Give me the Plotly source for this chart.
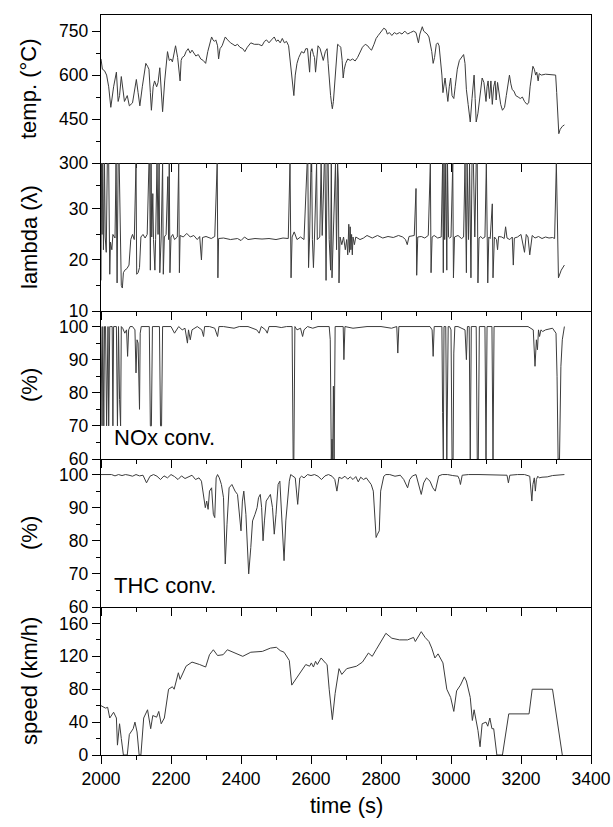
import plotly.graph_objects as go
from plotly.subplots import make_subplots

# ---------------- data ----------------
temp_time = [2000, 2004, 2010, 2016, 2022, 2028, 2036, 2044, 2049, 2053, 2058, 2063, 2067, 2075, 2081, 2090,
             2097, 2101, 2106, 2111, 2118, 2124, 2128, 2133, 2137, 2141, 2144, 2149, 2153, 2159, 2163, 2168,
             2172, 2176, 2182, 2186, 2190, 2195, 2200, 2204, 2209, 2213, 2219, 2223, 2226, 2229, 2232, 2238,
             2243, 2249, 2255, 2260, 2266, 2271, 2278, 2285, 2292, 2299, 2305, 2311, 2316, 2320, 2324, 2328,
             2333, 2336, 2340, 2346, 2351, 2355, 2362, 2370, 2377, 2383, 2390, 2397, 2405, 2411, 2418, 2428,
             2438, 2450, 2460, 2467, 2473, 2480, 2487, 2495, 2501, 2506, 2512, 2518, 2524, 2530, 2536, 2540,
             2543, 2547, 2551, 2555, 2560, 2565, 2573, 2580, 2585, 2590, 2593, 2596, 2599, 2603, 2607, 2610,
             2613, 2617, 2620, 2626, 2630, 2635, 2641, 2646, 2649, 2652, 2656, 2659, 2661, 2664, 2669, 2673,
             2676, 2681, 2685, 2689, 2692, 2695, 2699, 2705, 2712, 2719, 2726, 2733, 2740, 2747, 2755, 2762,
             2768, 2773, 2780, 2786, 2792, 2798, 2803, 2808, 2814, 2818, 2824, 2831, 2838, 2845, 2853, 2860,
             2868, 2876, 2884, 2893, 2900, 2904, 2907, 2911, 2915, 2918, 2922, 2926, 2932, 2937, 2941, 2945,
             2949, 2953, 2958, 2962, 2966, 2970, 2974, 2977, 2980, 2983, 2986, 2989, 2991, 2995, 2999, 3003,
             3008, 3012, 3018, 3024, 3030, 3036, 3040, 3044, 3049, 3055, 3060, 3066, 3069, 3072, 3077, 3083,
             3089, 3094, 3098, 3100, 3103, 3106, 3110, 3114, 3118, 3122, 3126, 3129, 3133, 3137, 3142, 3147,
             3153, 3158, 3162, 3167, 3171, 3175, 3180, 3185, 3192, 3198, 3204, 3210, 3217, 3222, 3226, 3231,
             3234, 3238, 3242, 3245, 3249, 3252, 3258, 3270, 3285, 3299, 3302, 3305, 3308, 3312, 3318, 3324]
temp_vals = [655, 620, 615, 600, 560, 490, 560, 610, 510, 530, 595, 545, 510, 530, 495, 505,
             560, 585, 540, 495, 560, 620, 640, 630, 620, 540, 480, 560, 580, 560, 575, 625,
             540, 475, 580, 640, 680, 650, 655, 645, 680, 700, 660, 600, 580, 650, 660, 665,
             680, 690, 675, 685, 675, 665, 670, 655, 650, 640, 680, 710, 730, 720, 715, 720,
             700, 655, 690, 700, 715, 730, 720, 710, 705, 700, 705, 695, 690, 680, 695, 710,
             705, 705, 700, 715, 720, 710, 720, 730, 715, 720, 710, 725, 710, 715, 700, 660,
             625, 580, 530, 600, 640, 660, 680, 675, 690, 690, 650, 610, 680, 690, 670, 660,
             610, 680, 700, 690, 670, 650, 680, 690, 640, 580, 530, 500, 485, 510, 600, 680,
             705, 700, 695, 650, 590, 620, 640, 655, 650, 655, 648, 660, 675, 695, 705, 700,
             690, 685, 705, 725, 735, 745, 750, 760, 755, 740, 745, 735, 745, 740, 745, 740,
             750, 740, 745, 750, 745, 725, 710, 740, 760, 765, 750, 745, 740, 730, 705, 680,
             640, 660, 705, 710, 700, 660, 600, 540, 560, 590, 560, 520, 510, 560, 590, 530,
             520, 560, 620, 650, 660, 670, 640, 550, 500, 440, 520, 600, 520, 440, 470, 540,
             590, 575, 540, 510, 560, 580, 520, 580, 500, 560, 580, 515, 575, 540, 500, 480,
             490, 530, 560, 600, 570, 550, 545, 530, 525, 520, 525, 510, 500, 505, 560, 610,
             630, 620, 600, 610, 580, 605, 600, 603, 602, 600, 540, 460, 400, 415, 425, 430]

lambda_time = [2000, 2001, 2003, 2005, 2007, 2010, 2012, 2015, 2018, 2022, 2025, 2027, 2031, 2034, 2040,
               2043, 2046, 2049, 2052, 2055, 2058, 2061, 2064, 2068, 2074, 2080, 2085, 2090, 2095, 2100,
               2102, 2106, 2110, 2114, 2120, 2126, 2132, 2137, 2139, 2141, 2143, 2145, 2148, 2150, 2154,
               2156, 2160, 2163, 2166, 2168, 2172, 2176, 2178, 2181, 2186, 2191, 2193, 2195, 2197, 2200,
               2205, 2210, 2218, 2222, 2224, 2226, 2235, 2245, 2255, 2265, 2275, 2282, 2287, 2290, 2300,
               2315, 2325, 2332, 2334, 2336, 2350, 2370, 2390, 2400, 2410, 2420, 2440, 2460, 2480, 2500,
               2520, 2535, 2540, 2543, 2546, 2552, 2560, 2570, 2580, 2589, 2591, 2593, 2596, 2600, 2602,
               2604, 2607, 2610, 2616, 2618, 2625, 2629, 2632, 2638, 2640, 2643, 2646, 2649, 2652, 2656,
               2658, 2660, 2663, 2668, 2670, 2673, 2676, 2678, 2680, 2683, 2688, 2693, 2698, 2702, 2705,
               2708, 2710, 2712, 2714, 2716, 2718, 2720, 2724, 2728, 2740, 2750, 2760, 2775, 2790, 2805,
               2820, 2835, 2850, 2862, 2870, 2875, 2880, 2895, 2900, 2902, 2905, 2915, 2925, 2935, 2941,
               2943, 2946, 2952, 2962, 2972, 2974, 2976, 2978, 2980, 2982, 2985, 2988, 2990, 2993, 2996,
               3000, 3005, 3007, 3010, 3020, 3030, 3036, 3038, 3040, 3044, 3046, 3050, 3053, 3057, 3060,
               3064, 3068, 3072, 3075, 3077, 3080, 3085, 3090, 3097, 3099, 3101, 3105, 3108, 3112, 3118,
               3120, 3124, 3130, 3133, 3136, 3145, 3152, 3156, 3160, 3168, 3175, 3178, 3181, 3190, 3200,
               3210, 3215, 3220, 3225, 3232, 3240, 3250, 3260, 3270, 3280, 3290, 3296, 3299, 3301, 3307,
               3315, 3324]
lambda_vals = [16, 300, 25, 300, 22, 300, 24.5, 21.5, 300, 300, 17.2, 23.5, 22, 25, 24.3,
               300, 15.5, 300, 300, 22, 15, 14.5, 17.5, 18, 18.3, 19, 24, 25, 24, 300,
               17.2, 17.5, 18.5, 24.5, 25, 24.3, 25, 300, 300, 18, 300, 24.5, 120, 24, 18,
               24, 300, 25, 300, 17.5, 24.5, 300, 17.2, 24.5, 25, 220, 24, 300, 17.5, 24.5,
               25, 24, 24.5, 300, 17.5, 24.8, 24.5, 25.2, 24.5, 24.8, 24, 24.6, 20, 24.4, 24.6,
               24.2, 24.6, 300, 16.5, 24.2, 24.3, 24, 24.2, 23.8, 24.5, 24, 24.2, 24.1, 24.2, 24,
               24.3, 24.2, 300, 16.5, 24.5, 25.5, 24, 24.5, 24, 300, 300, 18.5, 24.5, 300, 300,
               24, 18.5, 24.5, 300, 24, 24.5, 300, 24.8, 300, 300, 16, 300, 300, 24, 18,
               300, 16.5, 24.5, 300, 300, 22, 300, 200, 15.5, 24.5, 23, 24.5, 22, 24, 21,
               27, 21.5, 26.5, 22, 25, 21, 24.5, 23, 24.5, 24, 24.3, 24.8, 24.3, 24.8, 24.3,
               24.6, 24.4, 24.8, 24.5, 24, 23, 24.6, 24.8, 150, 17, 24.5, 24.6, 24.3, 24.8, 300,
               17.5, 24.5, 24.8, 24.3, 24.5, 300, 300, 17.5, 300, 24, 300, 18, 300, 24.5, 24.3,
               24.5, 300, 16.5, 24.5, 24.8, 24.2, 24.5, 300, 300, 17.5, 300, 24, 300, 16.5, 300,
               300, 24.5, 300, 300, 15.5, 24.3, 24.6, 24.2, 24.5, 300, 300, 15.5, 24.5, 24.2, 60,
               16.5, 24.5, 24, 22, 24.6, 24.5, 24.2, 26.5, 24.3, 24, 24.5, 19, 24.3, 24.5, 25,
               21.5, 25, 24.5, 21, 24.8, 24.3, 24.6, 24.2, 24.5, 24.3, 24.4, 24.2, 300, 300, 16.5,
               18, 19]

nox_time = [2000, 2003, 2005, 2008, 2010, 2013, 2016, 2018, 2020, 2022, 2025, 2028, 2032, 2034, 2036,
            2040, 2044, 2047, 2050, 2053, 2056, 2058, 2062, 2068, 2073, 2076, 2079, 2083, 2090, 2097,
            2100, 2103, 2106, 2110, 2112, 2115, 2118, 2125, 2138, 2141, 2144, 2147, 2150, 2160, 2167,
            2170, 2173, 2176, 2178, 2190, 2200, 2210, 2222, 2232, 2240, 2247, 2250, 2255, 2260, 2275,
            2288, 2293, 2296, 2310, 2325, 2333, 2337, 2350, 2380, 2395, 2420, 2445, 2452, 2458, 2470,
            2475, 2480, 2500, 2515, 2530, 2546, 2549, 2551, 2554, 2560, 2570, 2576, 2580, 2590, 2605,
            2620, 2640, 2652, 2655, 2658, 2660, 2662, 2664, 2666, 2669, 2685, 2692, 2694, 2697, 2720,
            2760, 2800, 2830, 2845, 2848, 2851, 2870, 2900, 2940, 2946, 2949, 2952, 2970, 2974, 2976,
            2978, 2980, 2983, 2985, 2988, 2990, 2992, 2996, 3000, 3003, 3006, 3008, 3011, 3020, 3040,
            3044, 3047, 3052, 3055, 3058, 3072, 3075, 3078, 3081, 3097, 3100, 3103, 3117, 3120, 3123,
            3150, 3180, 3220, 3235, 3240, 3244, 3247, 3250, 3253, 3257, 3262, 3270, 3290, 3300, 3303,
            3306, 3310, 3314, 3318, 3324]
nox_vals = [100, 70, 100, 70, 100, 100, 70, 100, 100, 70, 100, 100, 100, 70, 100,
            100, 100, 70, 100, 78, 70, 100, 99.5, 98, 99, 91, 99, 100, 100, 99,
            86, 96, 95, 75, 98, 100, 100, 100, 100, 70, 70, 100, 100, 100, 100,
            70, 70, 100, 100, 99.8, 100, 98, 100, 99, 99.5, 95, 99, 96, 99, 100,
            99, 97, 100, 100, 99.5, 97, 100, 100, 99.5, 100, 100, 99, 98, 100, 99,
            98, 100, 100, 99.7, 100, 100, 60, 60, 100, 99, 99.5, 97, 99, 100, 99.5,
            100, 100, 100, 96, 60, 66, 60, 82, 60, 100, 100, 100, 90, 100, 99.5,
            100, 100, 99.5, 100, 92, 100, 100, 99.8, 100, 99, 91, 100, 100, 100, 74,
            60, 100, 100, 100, 60, 76, 100, 100, 99, 60, 60, 92, 100, 100, 99,
            90, 100, 100, 60, 100, 100, 60, 60, 100, 100, 60, 100, 100, 60, 100,
            100, 100, 100, 99, 88, 96, 93, 99, 97, 99, 98.5, 99, 99.5, 98, 85,
            60, 60, 88, 96, 100]

thc_time = [2000, 2010, 2020, 2030, 2040, 2050, 2060, 2070, 2080, 2090, 2100, 2110, 2120, 2130, 2140,
            2150, 2160, 2170, 2180, 2190, 2200, 2210, 2220, 2230, 2240, 2250, 2260, 2270, 2280, 2287,
            2293, 2298, 2302, 2306, 2310, 2316, 2321, 2325, 2329, 2333, 2338, 2344, 2350, 2355, 2360,
            2366, 2374, 2383, 2390, 2396, 2400, 2404, 2408, 2414, 2422, 2428, 2433, 2440, 2446, 2450,
            2455, 2459, 2463, 2467, 2472, 2478, 2484, 2490, 2495, 2500, 2506, 2511, 2515, 2519, 2523,
            2528, 2534, 2538, 2542, 2548, 2555, 2562, 2568, 2573, 2580, 2590, 2600, 2610, 2620, 2630,
            2640, 2650, 2660, 2668, 2674, 2680, 2688, 2697, 2705, 2712, 2720, 2728, 2735, 2742, 2750,
            2758, 2765, 2772, 2778, 2783, 2786, 2790, 2795, 2799, 2803, 2808, 2814, 2825, 2840, 2855,
            2865, 2872, 2876, 2882, 2890, 2900, 2908, 2915, 2922, 2930, 2940, 2948, 2955, 2960, 2965,
            2975, 2990, 3005, 3020, 3024, 3027, 3032, 3050, 3080, 3110, 3140, 3160, 3164, 3168, 3190,
            3210, 3225, 3229, 3231, 3234, 3238, 3241, 3244, 3248, 3252, 3260, 3275, 3290, 3310, 3324]
thc_vals = [100, 100, 99.8, 100, 99.6, 100, 99.7, 100, 99.8, 99.5, 100, 99.6, 99.8, 97.5, 99.5,
            100, 99.5, 98.5, 99.6, 99, 100, 99.4, 98.5, 99.6, 98.8, 99.2, 99.8, 98.5, 99, 98,
            94, 90, 92, 89.5, 95, 96, 88, 87, 99, 100, 99, 97, 93, 73, 85,
            96, 97, 95, 94, 88, 83, 92, 95, 88, 70, 78, 86, 88, 90, 93,
            94, 90, 80, 86, 92, 93, 94, 90, 82, 88, 97, 98, 90, 82, 74,
            86, 95, 98, 100, 99.5, 99, 91, 99, 99.5, 99, 100, 99.7, 100, 99.5, 98.5,
            99.6, 100, 99.5, 98.5, 95, 99.2, 98.8, 99.5, 98.6, 99.3, 98.5, 99.4, 97.8, 99.2, 98.5,
            99, 98, 97, 95, 88, 81, 82, 83, 95, 97, 99.5, 100, 100, 99.5, 99.8,
            98.5, 97, 96, 98.5, 99.6, 100, 97, 94, 97.5, 99, 98, 96, 95, 97, 99.6,
            100, 100, 99.7, 99.5, 98.5, 97, 99.8, 100, 100, 100, 100, 99.8, 97.5, 99.8, 100,
            100, 99.5, 95, 92, 97, 99, 95, 98.5, 99.5, 99, 99.2, 99.3, 99.7, 100, 100]

speed_time = [2000, 2013, 2019, 2025, 2036, 2044, 2047, 2053, 2058, 2064, 2075, 2081, 2092, 2097, 2103,
              2109, 2114, 2122, 2133, 2142, 2148, 2159, 2165, 2172, 2181, 2193, 2204, 2209, 2221, 2226,
              2243, 2260, 2282, 2299, 2310, 2321, 2333, 2349, 2361, 2383, 2405, 2428, 2461, 2484, 2501,
              2512, 2523, 2538, 2545, 2553, 2568, 2585, 2596, 2601, 2607, 2613, 2618, 2629, 2641, 2646,
              2652, 2661, 2669, 2680, 2688, 2702, 2730, 2747, 2764, 2775, 2786, 2803, 2814, 2831, 2853,
              2876, 2893, 2898, 2915, 2926, 2937, 2945, 2954, 2963, 2977, 2988, 2999, 3008, 3016, 3027,
              3038, 3044, 3055, 3061, 3066, 3077, 3083, 3089, 3100, 3105, 3111, 3117, 3122, 3131, 3147,
              3165, 3223, 3232, 3290, 3318]
speed_vals = [60, 57, 58, 45, 52, 45, 12, 38, 20, 0, 0, 25, 32, 40, 28,
              0, 0, 45, 55, 32, 48, 46, 53, 38, 45, 80, 83, 80, 100, 92,
              108, 113, 110, 107, 122, 128, 121, 122, 128, 124, 120, 125, 126, 130, 131,
              127, 125, 115, 85, 90, 100, 110, 108, 112, 107, 114, 110, 118, 112, 110,
              80, 43, 75, 105, 98, 105, 108, 113, 124, 120, 128, 140, 148, 142, 140,
              140, 143, 138, 150, 143, 138, 130, 118, 123, 112, 80, 70, 53, 78, 85,
              95, 90, 70, 42, 55, 30, 10, 38, 40, 35, 45, 32, 32, 0, 0,
              50, 50, 80, 80, 0]

# lambda axis is broken above 30 (30 ... 300 compressed into a short segment)
lambda_ticks = [10, 20, 30, 300]

panel_titles = ["temp. (°C)", "lambda (λ)", "(%)", "(%)", "speed (km/h)"]
x_title = "time (s)"


def lam_axis(v):
    return v if v <= 30 else 30 + (v - 30) * 9.0 / 270.0


# ---------------- figure ----------------
W, H = 613, 827
ML, MR, MT, MB = 101, 22, 15, 72
LINE = dict(color="#3c3c3c", width=1)
FONT = "Liberation Sans, Arial, sans-serif"

fig = make_subplots(rows=5, cols=1, shared_xaxes=True, vertical_spacing=0)

fig.add_trace(go.Scatter(x=temp_time, y=temp_vals, mode="lines", line=LINE), row=1, col=1)
fig.add_trace(go.Scatter(x=lambda_time, y=[lam_axis(v) for v in lambda_vals], mode="lines", line=LINE),
              row=2, col=1)
fig.add_trace(go.Scatter(x=nox_time, y=nox_vals, mode="lines", line=LINE), row=3, col=1)
fig.add_trace(go.Scatter(x=thc_time, y=thc_vals, mode="lines", line=LINE), row=4, col=1)
fig.add_trace(go.Scatter(x=speed_time, y=speed_vals, mode="lines", line=LINE), row=5, col=1)

axis_common = dict(showline=True, linecolor="black", linewidth=1.4,
                   ticks="outside", ticklen=8, tickwidth=1.3, tickcolor="black",
                   showgrid=False, zeroline=False, automargin=False,
                   tickfont=dict(family=FONT, size=17.5, color="black"))

for r in range(1, 6):
    fig.update_xaxes(range=[2000, 3400], tickvals=list(range(2000, 3401, 200)),
                     minor=dict(tickvals=list(range(2100, 3400, 200)), ticks="outside", ticklen=4,
                                tickwidth=1.3, tickcolor="black"),
                     mirror=(r == 1), showticklabels=(r == 5), row=r, col=1, **axis_common)

minor_y = dict(ticks="outside", ticklen=4, tickwidth=1.3, tickcolor="black")

fig.update_yaxes(range=[300, 805], tickvals=[300, 450, 600, 750], ticktext=["", "450", "600", "750"],
                 minor=dict(tickvals=[375, 525, 675], **minor_y), mirror=True,
                 row=1, col=1, **axis_common)
fig.update_yaxes(range=[10, lam_axis(300)], tickvals=[lam_axis(v) for v in lambda_ticks],
                 ticktext=[str(v) for v in lambda_ticks],
                 minor=dict(tickvals=[15, 25, lam_axis(165)], **minor_y), mirror=True,
                 row=2, col=1, **axis_common)
for r in (3, 4):
    fig.update_yaxes(range=[60, 104.7], tickvals=[60, 70, 80, 90, 100],
                     minor=dict(tickvals=[65, 75, 85, 95], **minor_y), mirror=True,
                     row=r, col=1, **axis_common)
fig.update_yaxes(range=[0, 180], tickvals=[0, 40, 80, 120, 160],
                 minor=dict(tickvals=[20, 60, 100, 140], **minor_y), mirror=True,
                 row=5, col=1, **axis_common)

# axis titles (placed as annotations for exact positioning)
title_font = dict(family=FONT, size=22, color="black")
plot_w = W - ML - MR
for i, txt in enumerate(panel_titles):
    ycen = 1 - (i + 0.5) / 5
    fig.add_annotation(text=txt, xref="paper", yref="paper", x=(29 - ML) / plot_w, y=ycen,
                       textangle=-90, showarrow=False, xanchor="center", yanchor="middle",
                       font=title_font)
plot_h = H - MT - MB
fig.add_annotation(text=x_title, xref="paper", yref="paper", x=0.5, y=-(805 - (H - MB)) / plot_h,
                   showarrow=False, xanchor="center", yanchor="middle", font=title_font)

fig.add_annotation(text="NOx conv.", x=2030, y=66.5, xref="x3", yref="y3", showarrow=False,
                   xanchor="left", yanchor="middle", font=title_font)
fig.add_annotation(text="THC conv.", x=2030, y=66.5, xref="x4", yref="y4", showarrow=False,
                   xanchor="left", yanchor="middle", font=title_font)

fig.update_layout(width=W, height=H, margin=dict(l=ML, r=MR, t=MT, b=MB),
                  plot_bgcolor="white", paper_bgcolor="white", showlegend=False,
                  font=dict(family=FONT, color="black"))

# remove the default 8px page margin so the figure fills the window exactly
fig.write_html("out.html", config={"displayModeBar": False},
               post_script="document.body.style.margin='0px';document.body.style.overflow='hidden';")
